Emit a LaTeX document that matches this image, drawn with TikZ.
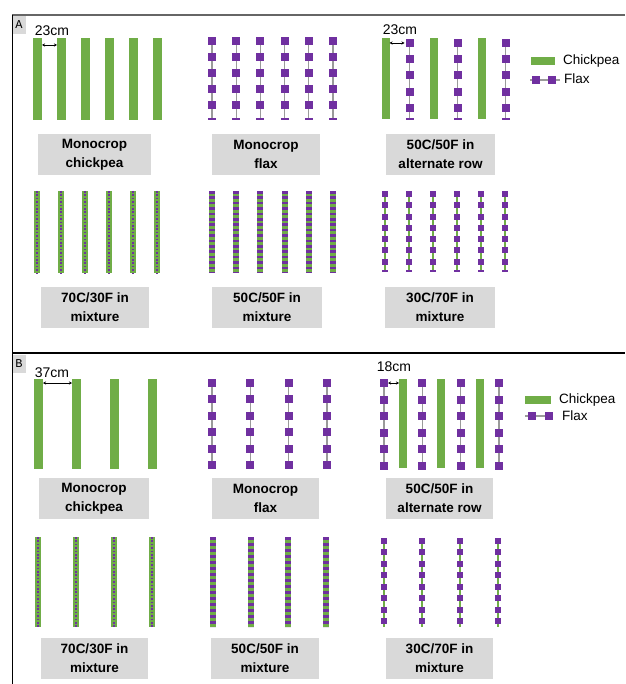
\documentclass[tikz,border=0pt]{standalone}
\usepackage{fontspec}
\setmainfont{Liberation Sans}
\setmonofont{Liberation Mono}
\usetikzlibrary{arrows.meta}
\definecolor{cgreen}{HTML}{70AD47}
\definecolor{fpurple}{HTML}{7030A0}
\definecolor{boxgrey}{HTML}{D9D9D9}
\definecolor{stemgrey}{HTML}{9A9A9A}
\tikzset{
 chick/.style={fill=cgreen},
 fsq/.style={fill=fpurple},
 stem/.style={draw=stemgrey, line width=1.2pt},
 gstem/.style={draw=cgreen, line width=1.6pt},
 lbl/.style={fill=boxgrey, font=\fontsize{13.5}{19}\selectfont\bfseries, align=center, inner sep=0pt},
 dimtext/.style={font=\fontsize{14}{16}\selectfont, inner sep=0pt},
 legtext/.style={font=\fontsize{13.5}{16}\selectfont, inner sep=0pt, anchor=west},
 dimarrow/.style={{Stealth[length=3pt,width=3pt]}-{Stealth[length=3pt,width=3pt]}, line width=0.7pt},
 panellbl/.style={fill=boxgrey, font=\ttfamily\fontsize{12}{13}\selectfont, inner sep=0pt, minimum width=13pt, minimum height=18pt},
}
% chickpea bar: x, width, top, bottom
\newcommand\cbar[4]{\fill[chick] ({#1-#2/2},#3) rectangle ({#1+#2/2},#4);}
% flax column: x, first centre, period, count, size, line end
\newcommand\fcol[6]{%
 \draw[stem] (#1,#2) -- (#1,#6);
 \foreach \k in {1,...,#4} {\fill[fsq] ({#1-#5/2},{#2+(\k-1)*#3-#5/2}) rectangle ({#1+#5/2},{#2+(\k-1)*#3+#5/2});}}
% flax tick: x, y, size
\newcommand\ftick[3]{\fill[fsq] ({#1-#3/2},{#2-1}) rectangle ({#1+#3/2},{#2+1});}
% 70C/30F column: x, top, bottom
\newcommand\mixA[3]{\fill[chick] ({#1-3},#2) rectangle ({#1+3},#3);
 \draw[fpurple, line width=2pt, dash pattern=on 1.6pt off 1.8pt] (#1,#2) -- (#1,#3);}
% 50C/50F column: x, top, bottom, half period
\newcommand\mixB[4]{\fill[chick] ({#1-3},#2) rectangle ({#1+3},#3);
 \draw[fpurple, line width=6pt, dash pattern=on #4pt off #4pt] (#1,#2) -- (#1,#3);}
% 30C/70F column: x, first centre, period, count, line end
\newcommand\mixC[5]{%
 \draw[gstem] (#1,#2) -- (#1,#5);
 \foreach \k in {1,...,#4} {\fill[fsq] ({#1-3},{#2+(\k-1)*#3-3}) rectangle ({#1+3},{#2+(\k-1)*#3+3});}}
\begin{document}
\begin{tikzpicture}[x=1pt,y=-1pt]
\useasboundingbox (0,0) rectangle (625,684);
% frames
\draw[draw=black!60, line width=1.6pt] (12,15) -- (625,15);
\draw[draw=black, line width=1pt] (12.5,15) -- (12.5,684);
\draw[draw=black, line width=2pt] (12,353) -- (625,353);
\node[panellbl] (pA) at (19,25) {A};
\node[panellbl] (pB) at (19,364) {B};

% ===== Panel A, row 1 =====
\foreach \i in {0,...,5} {\cbar{37.5+24*\i}{8.5}{38}{120}}
\coordinate (a1l) at (42,45); \coordinate (a1r) at (57,45);
\draw[dimarrow] (a1l) -- (a1r);
\node[dimtext] (d23a) at (52,31) {23cm};

\foreach \i in {0,...,5} {\fcol{212+24.2*\i}{41}{16}{5}{8}{119}\ftick{212+24.2*\i}{119}{8}}

\foreach \i in {0,1,2} {\cbar{385.5+48*\i}{8}{38}{119}}
\foreach \i in {0,1,2} {\fcol{409.5+48*\i}{43}{16.2}{5}{8}{119}\ftick{409.5+48*\i}{119}{8}}
\coordinate (a3l) at (389.5,43); \coordinate (a3r) at (404.5,43);
\draw[dimarrow] (a3l) -- (a3r);
\node[dimtext] (d23b) at (400,30) {23cm};

% legend A
\fill[chick] (531,57) rectangle (555,65);
\node[legtext] (lgAc) at (563,61) {Chickpea};
\coordinate (lfa1) at (530,80); \coordinate (lfa2) at (560,80);
\draw[stem] (lfa1) -- (lfa2);
\fill[fsq] (532,76) rectangle (540,84);
\fill[fsq] (548,76) rectangle (556,84);
\node[legtext] (lgAf) at (564,79) {Flax};

\node[lbl, minimum width=113, minimum height=41] (bA1) at (94.5,154.5) {Monocrop\\chickpea};
\node[lbl, minimum width=108, minimum height=41] (bA2) at (266,154.5) {Monocrop\\flax};
\node[lbl, minimum width=109, minimum height=41] (bA3) at (440.5,154.5) {50C/50F in\\alternate row};

% ===== Panel A, row 2 =====
\foreach \i in {0,...,5} {\mixA{37+24*\i}{191}{273}}
\foreach \i in {0,...,5} {\mixB{212+24.2*\i}{191}{273}{2.7}}
\foreach \i in {0,...,5} {\mixC{385+24*\i}{194}{11.3}{7}{272}\ftick{385+24*\i}{271}{6}}

\node[lbl, minimum width=108, minimum height=41] (bA4) at (95,307.5) {70C/30F in\\mixture};
\node[lbl, minimum width=110, minimum height=41] (bA5) at (267,307.5) {50C/50F in\\mixture};
\node[lbl, minimum width=110, minimum height=41] (bA6) at (440,307.5) {30C/70F in\\mixture};

% ===== Panel B, row 1 =====
\foreach \i in {0,...,3} {\cbar{38.5+38*\i}{8.5}{379}{469}}
\coordinate (b1l) at (43,383); \coordinate (b1r) at (72,383);
\draw[dimarrow] (b1l) -- (b1r);
\node[dimtext] (d37) at (52,373) {37cm};

\foreach \i in {0,...,3} {\fcol{212+38.3*\i}{383}{16.4}{6}{8}{465}}

\foreach \i in {0,...,3} {\fcol{384+38.3*\i}{383}{16.6}{6}{8}{466}}
\foreach \i in {0,1,2} {\cbar{403+38.3*\i}{8}{379}{468}}
\coordinate (b3l) at (388,383); \coordinate (b3r) at (399,383);
\draw[dimarrow] (b3l) -- (b3r);
\node[dimtext] (d18) at (394,367) {18cm};

% legend B
\fill[chick] (525,396) rectangle (551,404);
\node[legtext] (lgBc) at (559,400) {Chickpea};
\coordinate (lfb1) at (525,416); \coordinate (lfb2) at (553,416);
\draw[stem] (lfb1) -- (lfb2);
\fill[fsq] (528,412) rectangle (536,420);
\fill[fsq] (545,412) rectangle (553,420);
\node[legtext] (lgBf) at (562,416) {Flax};

\node[lbl, minimum width=110, minimum height=41] (bB1) at (94,498.5) {Monocrop\\chickpea};
\node[lbl, minimum width=107, minimum height=41] (bB2) at (265.5,498.5) {Monocrop\\flax};
\node[lbl, minimum width=107, minimum height=41] (bB3) at (439.5,498.5) {50C/50F in\\alternate row};

% ===== Panel B, row 2 =====
\foreach \i in {0,...,3} {\mixA{38+38*\i}{537}{627}}
\foreach \i in {0,...,3} {\mixB{213+37.7*\i}{537}{627}{3}}
\foreach \i in {0,...,3} {\mixC{384+38*\i}{541}{11.43}{8}{627}}

\node[lbl, minimum width=107, minimum height=41] (bB4) at (94.5,658.5) {70C/30F in\\mixture};
\node[lbl, minimum width=108, minimum height=41] (bB5) at (265,658.5) {50C/50F in\\mixture};
\node[lbl, minimum width=107, minimum height=41] (bB6) at (439.5,658.5) {30C/70F in\\mixture};
\end{tikzpicture}
\end{document}
